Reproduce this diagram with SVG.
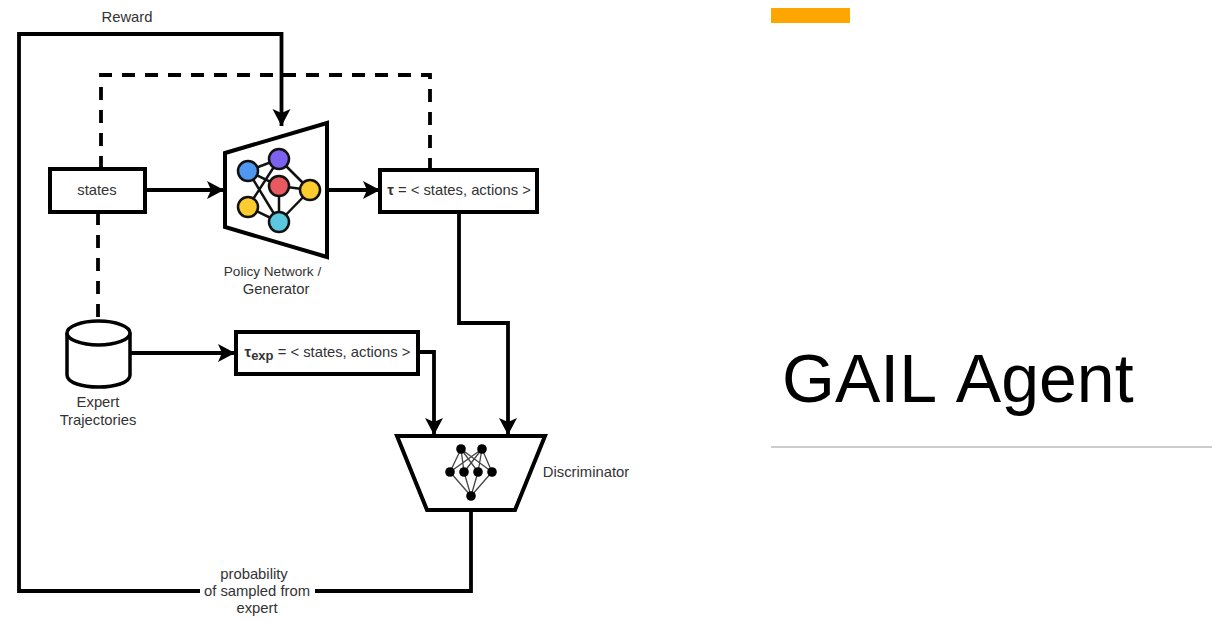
<svg xmlns="http://www.w3.org/2000/svg" width="1212" height="622" viewBox="0 0 1212 622">
<style>
text{font-family:"Liberation Sans",Arial,sans-serif;font-size:14.800px;fill:#333;text-anchor:middle}
.c{fill:none;stroke:#000;stroke-width:3.800}
.d{stroke-dasharray:13 10}
.b{fill:#fff;stroke:#000;stroke-width:4}
.n{stroke:#111;stroke-width:2.500}
.l{stroke:#111;stroke-width:2.500;fill:none}
.t{stroke:#444;stroke-width:1.300;fill:none}
</style>
<defs>
<marker id="a" markerUnits="userSpaceOnUse" markerWidth="20" markerHeight="20" refX="17" refY="9" orient="auto">
<path d="M0 0L17 9L0 18L4 9Z" fill="#000"/>
</marker>
</defs>
<rect width="1212" height="622" fill="#fff"/>
<g id="connectors">
<path class="c" d="M200 591H19V34H281.500V126" marker-end="url(#a)"/>
<path class="c" d="M471 510V591H315"/>
<path class="c d" d="M101 169V75H430V169"/>
<path class="c d" d="M98 212V320"/>
<path class="c" d="M145 190H224" marker-end="url(#a)"/>
<path class="c" d="M327 190H380" marker-end="url(#a)"/>
<path class="c" d="M130 353H235" marker-end="url(#a)"/>
<path class="c" d="M418 352H434V435" marker-end="url(#a)"/>
<path class="c" d="M459 212V323H508V435" marker-end="url(#a)"/>
</g>
<g id="generator">
<path d="M225 153L327 123V257L225 227Z" fill="#fff" stroke="#000" stroke-width="4"/>
<path class="l" d="M248 171L279 159M248 171L279 222M248 207L279 159M248 207L279 222M279 159L310 190M279 186L310 190M279 186L279 222M279 222L310 190M248 171L279 186"/>
<circle class="n" cx="248" cy="171" r="10" fill="#4f97f0"/>
<circle class="n" cx="279" cy="159" r="10" fill="#7d62f0"/>
<circle class="n" cx="279" cy="186" r="10" fill="#e85a5f"/>
<circle class="n" cx="310" cy="190" r="10" fill="#fbcb30"/>
<circle class="n" cx="248" cy="207" r="10" fill="#fbcb30"/>
<circle class="n" cx="279" cy="222" r="10" fill="#5cc8e0"/>
<text x="272.500" y="276" style="font-size:13.600px">Policy Network /</text>
<text x="276" y="294">Generator</text>
</g>
<g id="states">
<rect class="b" x="50" y="169" width="95" height="43"/>
<text x="97" y="195">states</text>
</g>
<g id="tau">
<rect class="b" x="380" y="170" width="157" height="42"/>
<text x="459" y="195"><tspan font-weight="bold">τ</tspan> = &lt; states, actions &gt;</text>
</g>
<g id="tau-exp">
<rect class="b" x="236" y="332" width="182" height="42"/>
<text x="327.500" y="357"><tspan font-weight="bold">τ</tspan><tspan font-weight="bold" font-size="13" dy="3">exp</tspan><tspan dy="-3"> = &lt; states, actions &gt;</tspan></text>
</g>
<g id="expert">
<path d="M67 333V375C67 391 130 391 130 375V333" fill="#fff" stroke="#000" stroke-width="3.500"/>
<ellipse cx="98.500" cy="333" rx="31.500" ry="12" fill="#fff" stroke="#000" stroke-width="3.500"/>
<text x="98" y="407">Expert</text>
<text x="98" y="425">Trajectories</text>
</g>
<g id="discriminator">
<path d="M397 436H545L515 510H427Z" fill="#fff" stroke="#000" stroke-width="4"/>
<path class="t" d="M461 449L450 472M461 449L464 472M461 449L478 472M461 449L492 472M482 449L450 472M482 449L464 472M482 449L478 472M482 449L492 472M450 472L471 496M464 472L471 496M478 472L471 496M492 472L471 496"/>
<g fill="#000">
<circle cx="461" cy="449" r="4.800"/><circle cx="482" cy="449" r="4.800"/>
<circle cx="450" cy="472" r="4.800"/><circle cx="464" cy="472" r="4.800"/><circle cx="478" cy="472" r="4.800"/><circle cx="492" cy="472" r="4.800"/>
<circle cx="471" cy="496" r="4.800"/>
</g>
<text x="586" y="477">Discriminator</text>
</g>
<g id="labels">
<text x="127" y="22">Reward</text>
<text x="254" y="579">probability</text>
<text x="257" y="596">of sampled from</text>
<text x="257" y="613">expert</text>
</g>
<g id="title">
<rect x="771" y="8" width="79" height="15" fill="#ffa500"/>
<text x="782" y="402" style="font-size:68px;fill:#000;text-anchor:start;font-kerning:none">GAIL Agent</text>
<path d="M771 447H1212" stroke="#ccc" stroke-width="2"/>
</g>
</svg>
